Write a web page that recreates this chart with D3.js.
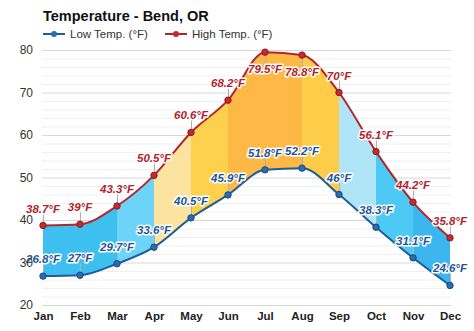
<!DOCTYPE html>
<html><head><meta charset="utf-8">
<script src="https://cdn.jsdelivr.net/npm/d3@7"></script>
<style>
html,body{margin:0;padding:0;background:#fff;}
svg{display:block;font-family:"Liberation Sans",Arial,sans-serif;}
</style></head>
<body><svg id="c" width="474" height="331"></svg>
<script>
const months = ["Jan","Feb","Mar","Apr","May","Jun","Jul","Aug","Sep","Oct","Nov","Dec"];
const lowTemps = [26.8,27,29.7,33.6,40.5,45.9,51.8,52.2,46,38.3,31.1,24.6];
const highTemps = [38.7,39,43.3,50.5,60.6,68.2,79.5,78.8,70,56.1,44.2,35.8];
const lowLabels = ["26.8°F","27°F","29.7°F","33.6°F","40.5°F","45.9°F","51.8°F","52.2°F","46°F","38.3°F","31.1°F","24.6°F"];
const highLabels = ["38.7°F","39°F","43.3°F","50.5°F","60.6°F","68.2°F","79.5°F","78.8°F","70°F","56.1°F","44.2°F","35.8°F"];
const yTicks = [20,30,40,50,60,70,80];
const segColors = ["#3dbff0","#3dbff0","#6dd3f8","#fde3a0","#fdd04e","#fdb845","#fdb845","#fdcc48","#b0e5f8","#4cc9f4","#3bb6ee"];

const svg = d3.select("#c");
const x = d3.scalePoint().domain(months).range([43,450]);
const y = d3.scaleLinear().domain([20,80]).range([305,50]);

// grid
const grid = svg.append("g");
grid.selectAll("line").data(d3.range(20,81,2)).join("line")
  .attr("x1",42).attr("x2",451)
  .attr("y1",d=>y(d)+0.5).attr("y2",d=>y(d)+0.5)
  .attr("stroke",d=>d%10===0?"#d8d8d8":"#efefef").attr("stroke-width",1);

// fill segments
const data = months.map((m,i)=>({m,lo:lowTemps[i],hi:highTemps[i]}));
const area = d3.area().x(d=>x(d.m)).y0(d=>y(d.lo)).y1(d=>y(d.hi)).curve(d3.curveMonotoneX);
const defs = svg.append("defs");
segColors.forEach((c,i)=>{
  const x0 = x(months[i]), x1 = x(months[i+1]);
  defs.append("clipPath").attr("id","seg"+i).append("rect")
    .attr("x",x0-(i===0?1:0)).attr("y",0).attr("width",x1-x0+(i===0?1:0)+(i===segColors.length-1?1:0.6)).attr("height",331);
  svg.append("path").datum(data).attr("d",area).attr("fill",c).attr("clip-path","url(#seg"+i+")");
});

// leader lines
const leaders = svg.append("g").attr("stroke","#b0b0b0").attr("stroke-width",1);
data.forEach(d=>{
  const below = d.hi>75;
  leaders.append("line").attr("x1",x(d.m)+0.5).attr("x2",x(d.m)+0.5)
    .attr("y1",y(d.hi)).attr("y2",y(d.hi)+(below?12:-12));
  leaders.append("line").attr("x1",x(d.m)+0.5).attr("x2",x(d.m)+0.5)
    .attr("y1",y(d.lo)).attr("y2",y(d.lo)-12);
});

// lines
const lineHi = d3.line().x(d=>x(d.m)).y(d=>y(d.hi)).curve(d3.curveMonotoneX);
const lineLo = d3.line().x(d=>x(d.m)).y(d=>y(d.lo)).curve(d3.curveMonotoneX);
svg.append("path").datum(data).attr("d",lineHi).attr("fill","none").attr("stroke","#b3262c").attr("stroke-width",2);
svg.append("path").datum(data).attr("d",lineLo).attr("fill","none").attr("stroke","#1f5c99").attr("stroke-width",2);

svg.append("g").selectAll("circle").data(data).join("circle")
  .attr("cx",d=>x(d.m)).attr("cy",d=>y(d.hi)).attr("r",3.2)
  .attr("fill","#c42a30").attr("stroke","#8e1a1e").attr("stroke-width",1);
svg.append("g").selectAll("circle").data(data).join("circle")
  .attr("cx",d=>x(d.m)).attr("cy",d=>y(d.lo)).attr("r",3.2)
  .attr("fill","#2a6cb3").attr("stroke","#174a80").attr("stroke-width",1);

// data labels
function labels(vals, texts, color, below){
  svg.append("g").selectAll("text").data(vals).join("text")
    .attr("x",(d,i)=>x(months[i]))
    .attr("y",(d,i)=>y(d)+(below(d)?21:-13))
    .attr("text-anchor","middle")
    .attr("font-size","11.5px").attr("font-weight","bold").attr("font-style","italic")
    .attr("fill",color).attr("stroke","#fff").attr("stroke-width",3)
    .attr("stroke-linejoin","round").attr("paint-order","stroke")
    .text((d,i)=>texts[i]);
}
labels(highTemps, highLabels, "#b3222a", d=>d>75);
labels(lowTemps, lowLabels, "#1d559a", d=>false);

// axes
const ya = svg.append("g").attr("transform","translate(33,0)")
  .call(d3.axisLeft(y).tickValues(yTicks).tickSize(0).tickPadding(0));
ya.select(".domain").remove();
ya.selectAll("text").attr("font-size","12px").attr("fill","#333").attr("font-family","Liberation Sans, Arial, sans-serif");

const xa = svg.append("g").attr("transform","translate(0,305)")
  .call(d3.axisBottom(x).tickSize(0).tickPadding(7));
xa.select(".domain").remove();
xa.selectAll("text").attr("font-size","11.5px").attr("font-weight","bold").attr("fill","#222").attr("font-family","Liberation Sans, Arial, sans-serif");

// title
svg.append("text").attr("x",43).attr("y",21).attr("font-size","14.5px").attr("font-weight","bold")
  .attr("fill","#111").text("Temperature - Bend, OR");

// legend
const leg = [{t:"Low Temp. (°F)",c:"#1f5c99",f:"#2a6cb3",x:43},{t:"High Temp. (°F)",c:"#b3262c",f:"#c42a30",x:165}];
leg.forEach(l=>{
  const g = svg.append("g");
  g.append("line").attr("x1",l.x).attr("x2",l.x+22).attr("y1",34).attr("y2",34).attr("stroke",l.c).attr("stroke-width",2);
  g.append("circle").attr("cx",l.x+11).attr("cy",34).attr("r",3).attr("fill",l.f);
  g.append("text").attr("x",l.x+27).attr("y",38).attr("font-size","11.5px").attr("fill","#333").text(l.t);
});
</script></body></html>
